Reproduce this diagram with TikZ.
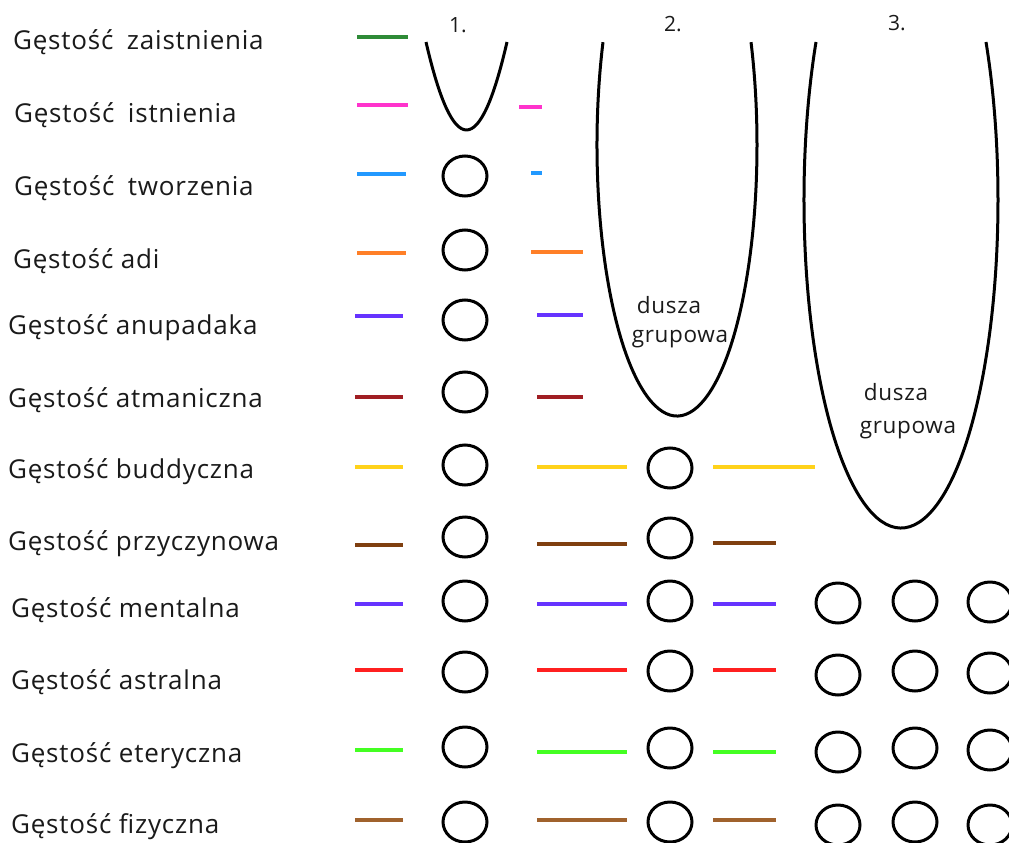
\documentclass[tikz,border=0pt]{standalone}
\usepackage{fontspec}
\setmainfont{Open Sans}
\usetikzlibrary{shapes.geometric}
\definecolor{cZaist}{HTML}{2E8B37}
\definecolor{cIstn}{HTML}{FF33CC}
\definecolor{cTworz}{HTML}{2299FF}
\definecolor{cAdi}{HTML}{FF7F27}
\definecolor{cAnup}{HTML}{6633FF}
\definecolor{cAtma}{HTML}{A01E23}
\definecolor{cBudd}{HTML}{FFD21A}
\definecolor{cPrzy}{HTML}{7F3F10}
\definecolor{cMent}{HTML}{6633FF}
\definecolor{cAstr}{HTML}{FF2020}
\definecolor{cEter}{HTML}{44FF22}
\definecolor{cFizy}{HTML}{A0622D}
\definecolor{txt}{HTML}{1A1A1A}
\begin{document}
\begin{tikzpicture}[x=1pt,y=1pt,
  lab/.style={anchor=base west, inner sep=0pt, text=txt, font=\fontsize{26}{30}\selectfont\addfontfeatures{LetterSpace=3}},
  num/.style={anchor=base, inner sep=0pt, text=txt, font=\fontsize{21}{25}\selectfont},
  soul/.style={anchor=base, inner sep=0pt, text=txt, font=\fontsize{22.5}{26}\selectfont\addfontfeatures{LetterSpace=3}},
  bar/.style={line width=3.5pt},
  circ/.style={draw=black, line width=3pt, ellipse, minimum width=44pt, minimum height=40pt, inner sep=0pt},
  shell/.style={draw=black, line width=3pt}]
\useasboundingbox[fill=white] (0,0) rectangle (1009,-843);

% labels
\node[lab] (l1) at (13,-50) {Gęstość\hspace{6pt} zaistnienia};
\node[lab] (l2) at (14,-122) {Gęstość\hspace{6pt} istnienia};
\node[lab] (l3) at (14,-195) {Gęstość\hspace{6pt} tworzenia};
\node[lab] (l4) at (13,-268) {Gęstość adi};
\node[lab] (l5) at (8,-334) {Gęstość anupadaka};
\node[lab] (l6) at (8,-407) {Gęstość atmaniczna};
\node[lab] (l7) at (8,-478) {Gęstość buddyczna};
\node[lab] (l8) at (8,-550) {Gęstość przyczynowa};
\node[lab] (l9) at (11,-617) {Gęstość mentalna};
\node[lab] (l10) at (11,-689) {Gęstość astralna};
\node[lab] (l11) at (11,-762) {Gęstość eteryczna};
\node[lab] (l12) at (11,-833) {Gęstość fizyczna};

% column numbers
\node[num] (n1) at (458,-33) {1.};
\node[num] (n2) at (673,-32) {2.};
\node[num] (n3) at (897,-31) {3.};

% coloured bars
\draw[bar, cZaist] (357,-37) -- (408,-37);
\draw[bar, cIstn] (357,-105) -- (408,-105);
\draw[bar, cIstn] (519,-107) -- (542,-107);
\draw[bar, cTworz] (357,-174) -- (406,-174);
\draw[bar, cTworz] (531,-173) -- (542,-173);
\draw[bar, cAdi] (357,-253) -- (406,-253);
\draw[bar, cAdi] (531,-252) -- (583,-252);
\draw[bar, cAnup] (355,-316) -- (403,-316);
\draw[bar, cAnup] (537,-315) -- (583,-315);
\draw[bar, cAtma] (355,-397) -- (403,-397);
\draw[bar, cAtma] (537,-397) -- (583,-397);
\draw[bar, cBudd] (355,-467) -- (403,-467);
\draw[bar, cBudd] (537,-467) -- (627,-467);
\draw[bar, cBudd] (713,-467) -- (815,-467);
\draw[bar, cPrzy] (355,-545) -- (403,-545);
\draw[bar, cPrzy] (537,-544) -- (627,-544);
\draw[bar, cPrzy] (713,-543) -- (776,-543);
\draw[bar, cMent] (355,-604) -- (403,-604);
\draw[bar, cMent] (537,-604) -- (627,-604);
\draw[bar, cMent] (713,-604) -- (776,-604);
\draw[bar, cAstr] (355,-670) -- (403,-670);
\draw[bar, cAstr] (537,-670) -- (627,-670);
\draw[bar, cAstr] (713,-670) -- (776,-670);
\draw[bar, cEter] (355,-750) -- (403,-750);
\draw[bar, cEter] (537,-752) -- (627,-752);
\draw[bar, cEter] (713,-752) -- (776,-752);
\draw[bar, cFizy] (355,-820) -- (403,-820);
\draw[bar, cFizy] (537,-820) -- (627,-820);
\draw[bar, cFizy] (713,-820) -- (776,-820);

% column 1 circles
\node[circ] (a3) at (465,-176) {};
\node[circ] (a4) at (465,-250) {};
\node[circ] (a5) at (465,-320) {};
\node[circ] (a6) at (465,-392) {};
\node[circ] (a7) at (465,-465) {};
\node[circ] (a8) at (465,-537) {};
\node[circ] (a9) at (465,-601) {};
\node[circ] (a10) at (465,-672) {};
\node[circ] (a11) at (465,-747) {};
\node[circ] (a12) at (465,-822) {};

% column 2 circles
\node[circ] (b7) at (670,-468) {};
\node[circ] (b8) at (670,-538) {};
\node[circ] (b9) at (670,-601) {};
\node[circ] (b10) at (670,-671) {};
\node[circ] (b11) at (670,-748) {};
\node[circ] (b12) at (670,-822) {};

% column 3 circles
\node[circ] (c9a) at (838,-603) {};
\node[circ] (c9b) at (915,-601) {};
\node[circ] (c9c) at (990,-602) {};
\node[circ] (c10a) at (838,-675) {};
\node[circ] (c10b) at (915,-671) {};
\node[circ] (c10c) at (990,-673) {};
\node[circ] (c11a) at (838,-752) {};
\node[circ] (c11b) at (915,-748) {};
\node[circ] (c11c) at (990,-750) {};
\node[circ] (c12a) at (838,-825) {};
\node[circ] (c12b) at (915,-822) {};
\node[circ] (c12c) at (990,-825) {};

% group-soul shells
\draw[shell] (426,-42) .. controls (453,-159.3) and (480,-159.3) .. (507,-42);
\draw[shell] ([shift={(677,-145)}]157.7:80 and 271) arc[start angle=157.7, end angle=382.3, x radius=80, y radius=271];
\draw[shell] ([shift={(901,-200)}]151.2:97 and 328) arc[start angle=151.2, end angle=388.8, x radius=97, y radius=328];

\node[soul] (d2a) at (669,-313) {dusza};
\node[soul] (d2b) at (680,-342) {grupowa};
\node[soul] (d3a) at (896,-400) {dusza};
\node[soul] (d3b) at (908,-433) {grupowa};
\end{tikzpicture}
\end{document}
